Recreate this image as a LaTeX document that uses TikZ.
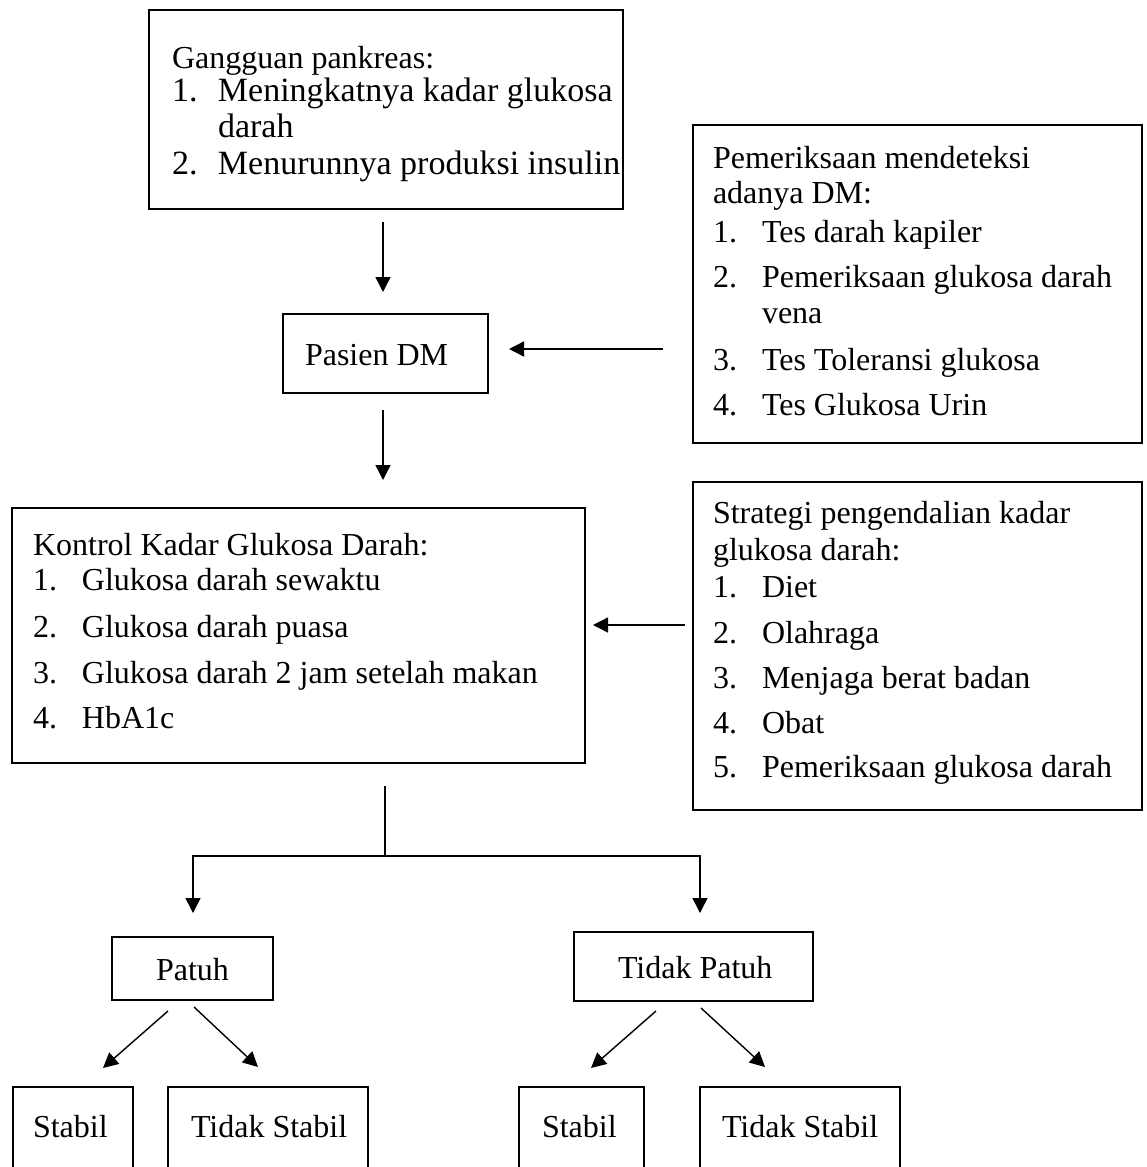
\documentclass[tikz,border=0pt]{standalone}
\usepackage{fontspec}
\setmainfont{Liberation Serif}
\usetikzlibrary{arrows.meta,calc}
\begin{document}
\begin{tikzpicture}[x=1pt,y=-1pt,
  box/.style={draw=black,line width=2.8pt,inner sep=0pt,outer sep=0pt,rectangle},
  txt/.style={inner sep=0pt,outer sep=0pt,anchor=base west,font=\fontsize{32}{38}\selectfont},
  txtbig/.style={txt,font=\fontsize{34}{40}\selectfont},
  arr/.style={line width=1.4pt,-{Triangle[length=15pt,width=15pt]}},
  ln/.style={line width=1.4pt}]
\useasboundingbox (0,0) rectangle (1146,1167);
\clip (0,0) rectangle (1146,1167);
\fill[white] (0,0) rectangle (1146,1167);
% boxes
\node[box,minimum width=474pt,minimum height=199pt] (A) at (386,109.5) {};
\node[box,minimum width=205pt,minimum height=79pt] (B) at (385.5,353.5) {};
\node[box,minimum width=449pt,minimum height=318pt] (C) at (917.5,284) {};
\node[box,minimum width=573pt,minimum height=255pt] (D) at (298.5,635.5) {};
\node[box,minimum width=449pt,minimum height=328pt] (E) at (917.5,646) {};
\node[box,minimum width=161pt,minimum height=63pt] (P) at (192.5,968.5) {};
\node[box,minimum width=239pt,minimum height=69pt] (TP) at (693.5,966.5) {};
\node[box,minimum width=120pt,minimum height=103pt] (S1) at (73,1138.5) {};
\node[box,minimum width=200pt,minimum height=103pt] (TS1) at (268,1138.5) {};
\node[box,minimum width=125pt,minimum height=103pt] (S2) at (581.5,1138.5) {};
\node[box,minimum width=200pt,minimum height=103pt] (TS2) at (800,1138.5) {};
% texts box A
\node[txt] (a1) at (172,68) {Gangguan pankreas:};
\node[txtbig] (a2) at (172,101) {\makebox[46pt][l]{1.}Meningkatnya kadar glukosa};
\node[txtbig] (a3) at (218,137) {darah};
\node[txtbig] (a4) at (172,174) {\makebox[46pt][l]{2.}Menurunnya produksi insulin};
% box B
\node[txt] (b1) at (305,365) {Pasien DM};
% box C
\node[txt] (c1) at (713,168) {Pemeriksaan mendeteksi};
\node[txt] (c2) at (713,203) {adanya DM:};
\node[txt] (c3) at (713,242) {\makebox[49pt][l]{1.}Tes darah kapiler};
\node[txt] (c4) at (713,287) {\makebox[49pt][l]{2.}Pemeriksaan glukosa darah};
\node[txt] (c5) at (762,323) {vena};
\node[txt] (c6) at (713,370) {\makebox[49pt][l]{3.}Tes Toleransi glukosa};
\node[txt] (c7) at (713,415) {\makebox[49pt][l]{4.}Tes Glukosa Urin};
% box D
\node[txt] (d1) at (33,555) {Kontrol Kadar Glukosa Darah:};
\node[txt] (d2) at (33,590) {\makebox[49pt][l]{1.}Glukosa darah sewaktu};
\node[txt] (d3) at (33,637) {\makebox[49pt][l]{2.}Glukosa darah puasa};
\node[txt] (d4) at (33,683) {\makebox[49pt][l]{3.}Glukosa darah 2 jam setelah makan};
\node[txt] (d5) at (33,728) {\makebox[49pt][l]{4.}HbA1c};
% box E
\node[txt] (e1) at (713,523) {Strategi pengendalian kadar};
\node[txt] (e2) at (713,560) {glukosa darah:};
\node[txt] (e3) at (713,597) {\makebox[49pt][l]{1.}Diet};
\node[txt] (e4) at (713,643) {\makebox[49pt][l]{2.}Olahraga};
\node[txt] (e5) at (713,688) {\makebox[49pt][l]{3.}Menjaga berat badan};
\node[txt] (e6) at (713,733) {\makebox[49pt][l]{4.}Obat};
\node[txt] (e7) at (713,777) {\makebox[49pt][l]{5.}Pemeriksaan glukosa darah};
% bottom texts
\node[txt] (p1) at (156,980) {Patuh};
\node[txt] (tp1) at (618,978) {Tidak Patuh};
\node[txt] (s1t) at (33,1137) {Stabil};
\node[txt] (ts1t) at (191,1137) {Tidak Stabil};
\node[txt] (s2t) at (542,1137) {Stabil};
\node[txt] (ts2t) at (722,1137) {Tidak Stabil};
% connectors
\draw[arr] ($(A.south)+(-3,13)$) -- ($(A.south |- B.north)+(-3,-22)$);
\draw[arr] ($(C.west |- B.east)+(-30,-4.5)$) -- ($(B.east)+(21,-4.5)$);
\draw[arr] ($(B.south)+(-2.5,17)$) -- ($(B.south |- D.north)+(-2.5,-28)$);
\draw[arr] ($(E.west |- D.east)+(-8,-10.5)$) -- ($(D.east)+(8,-10.5)$);
\coordinate (J) at ($(D.south)+(86.5,93)$);
\draw[ln] ($(D.south)+(86.5,23)$) -- (J);
\draw[arr] (J) -| ($(P.north)+(0.5,-24)$);
\draw[arr] (J) -| ($(TP.north)+(6.5,-19)$);
\draw[arr] ($(P.south)+(-24.5,11)$) -- ($(S1.north)+(30,-19)$);
\draw[arr] ($(P.south)+(1.5,7)$) -- ($(TS1.north)+(-10,-20)$);
\draw[arr] ($(TP.south)+(-37.5,10)$) -- ($(S2.north)+(9.5,-19)$);
\draw[arr] ($(TP.south)+(7.5,7)$) -- ($(TS2.north)+(-35,-20)$);
\end{tikzpicture}
\end{document}
